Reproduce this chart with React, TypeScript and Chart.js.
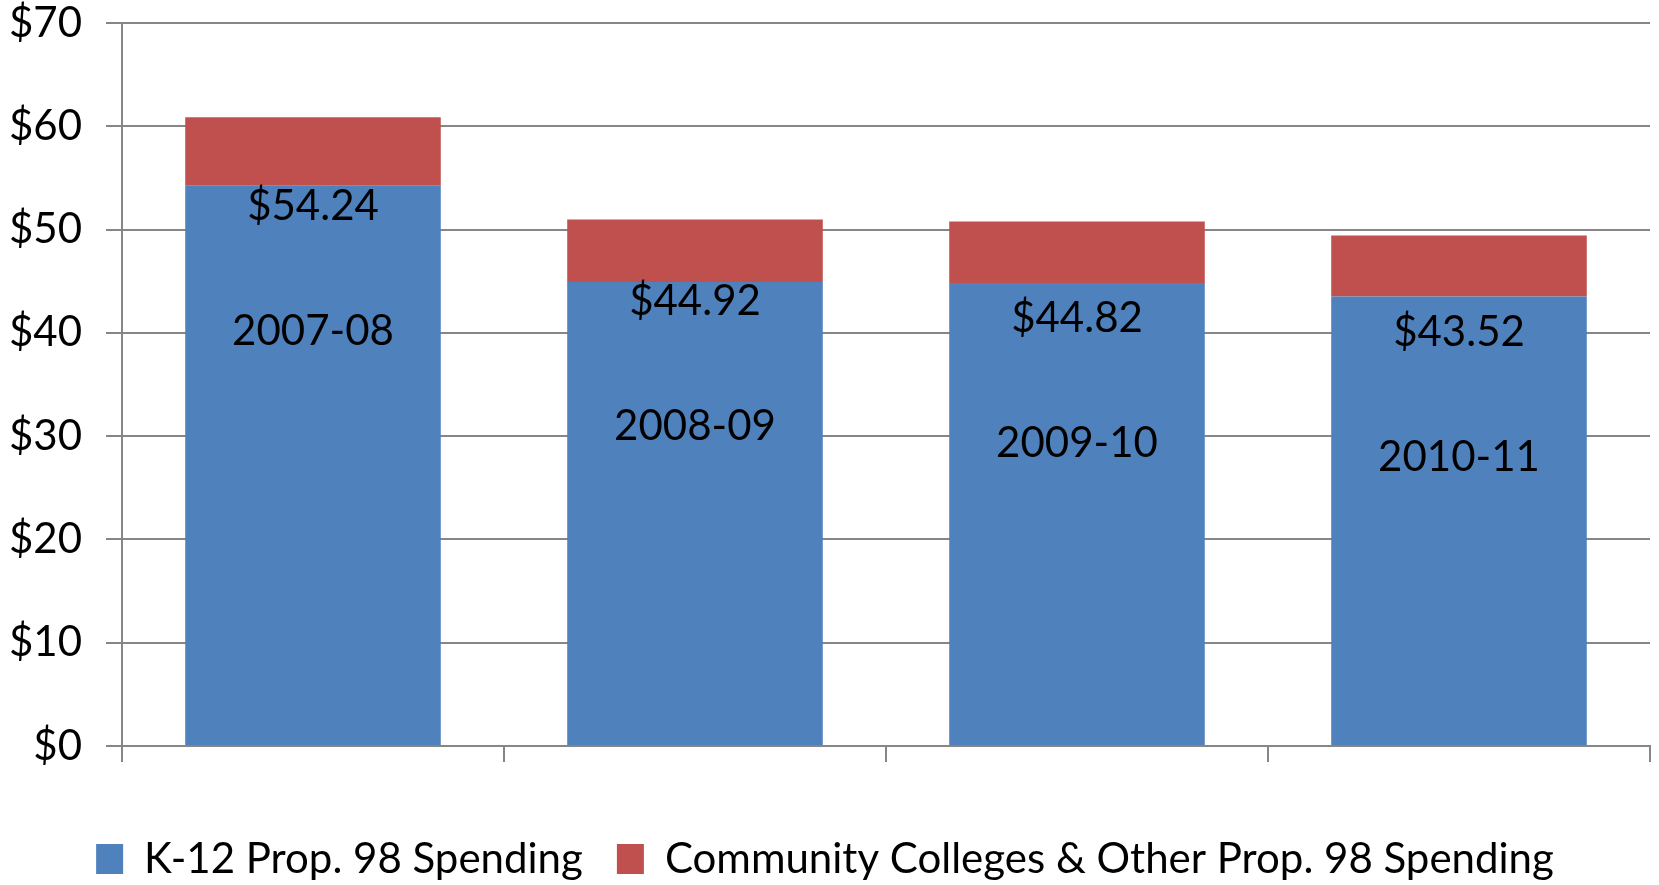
import React, { useEffect, useRef } from "react";
import { Chart, registerables } from "chart.js";

Chart.register(...registerables);

const categories = ["2007-08", "2008-09", "2009-10", "2010-11"];
const k12Spending = [54.24, 44.92, 44.82, 43.52];
const otherSpending = [6.63, 6.05, 5.96, 5.9];
const seriesNames = ["K-12 Prop. 98 Spending", "Community Colleges & Other Prop. 98 Spending"];
const yTicks = [0, 10, 20, 30, 40, 50, 60, 70];

// label placement (px below the top of the blue bar), styling only
const valueLabelOffsets = [19, 18, 34, 34];
const categoryLabelGap = 125;

const BLUE = "#4F81BD";
const RED = "#C0504D";
const GRID = "#868686";
const FONT = "Lato, 'Open Sans', sans-serif";
const FS = 42;

const labelPlugin = {
  id: "barLabels",
  afterDatasetsDraw(chart: any) {
    const ctx = chart.ctx;
    const meta = chart.getDatasetMeta(0);
    ctx.save();
    ctx.fillStyle = "#000";
    ctx.font = `${FS}px ${FONT}`;
    ctx.textAlign = "center";
    ctx.textBaseline = "alphabetic";
    meta.data.forEach((bar: any, i: number) => {
      const cy = bar.y + valueLabelOffsets[i];
      const capHalf = FS * 0.358;
      ctx.fillText("$" + k12Spending[i].toFixed(2), bar.x, cy + capHalf);
      ctx.fillText(categories[i], bar.x, cy + categoryLabelGap + capHalf);
    });
    ctx.restore();
  },
};

export default function App() {
  const canvasRef = useRef<HTMLCanvasElement | null>(null);

  useEffect(() => {
    document.body.style.margin = "0";
    let chart: Chart | null = null;
    let cancelled = false;
    const make = () => {
      if (cancelled || !canvasRef.current) return;
      chart = new Chart(canvasRef.current, {
        type: "bar",
        data: {
          labels: categories,
          datasets: [
            {
              label: seriesNames[0],
              data: k12Spending,
              backgroundColor: BLUE,
              borderWidth: 0,
            },
            {
              label: seriesNames[1],
              data: otherSpending,
              backgroundColor: RED,
              borderWidth: 0,
            },
          ],
        },
        options: {
          animation: false,
          responsive: true,
          maintainAspectRatio: false,
          layout: { padding: { top: 0, right: 9, left: 0, bottom: -5 } },
          datasets: {
            bar: { categoryPercentage: 1, barPercentage: 0.669 },
          },
          plugins: {
            tooltip: { enabled: false },
            legend: {
              display: true,
              position: "bottom",
              labels: {
                color: "#000",
                font: { family: FONT, size: FS },
                boxWidth: 27,
                boxHeight: 30,
                padding: 34,
              },
            },
          },
          scales: {
            x: {
              stacked: true,
              ticks: { display: false },
              grid: {
                drawOnChartArea: false,
                drawTicks: true,
                tickLength: 16,
                color: GRID,
                lineWidth: 2,
                offset: true,
              },
              border: { display: true, color: GRID, width: 2 },
              afterFit: (scale: any) => {
                scale.height = 58;
              },
            },
            y: {
              stacked: true,
              min: 0,
              max: 70,
              afterBuildTicks: (scale: any) => {
                scale.ticks = yTicks.map((v) => ({ value: v }));
              },
              ticks: {
                color: "#000",
                font: { family: FONT, size: FS, lineHeight: 1.1 },
                padding: 24,
                callback: (v: any) => "$" + v,
              },
              grid: {
                color: GRID,
                lineWidth: 2,
                tickLength: 16,
                drawTicks: true,
              },
              border: { display: true, color: GRID, width: 2 },
              afterFit: (scale: any) => {
                scale.width = 122;
                scale.paddingTop = 23;
                scale.paddingBottom = 0;
              },
            },
          },
        },
        plugins: [labelPlugin],
      });
    };
    if ((document as any).fonts && (document as any).fonts.load) {
      (document as any).fonts.load(`${FS}px Lato`).then(make, make);
    } else {
      make();
    }
    return () => {
      cancelled = true;
      if (chart) chart.destroy();
    };
  }, []);

  return (
    <div style={{ width: "1659px", height: "885px", position: "relative" }}>
      <canvas ref={canvasRef} />
    </div>
  );
}
